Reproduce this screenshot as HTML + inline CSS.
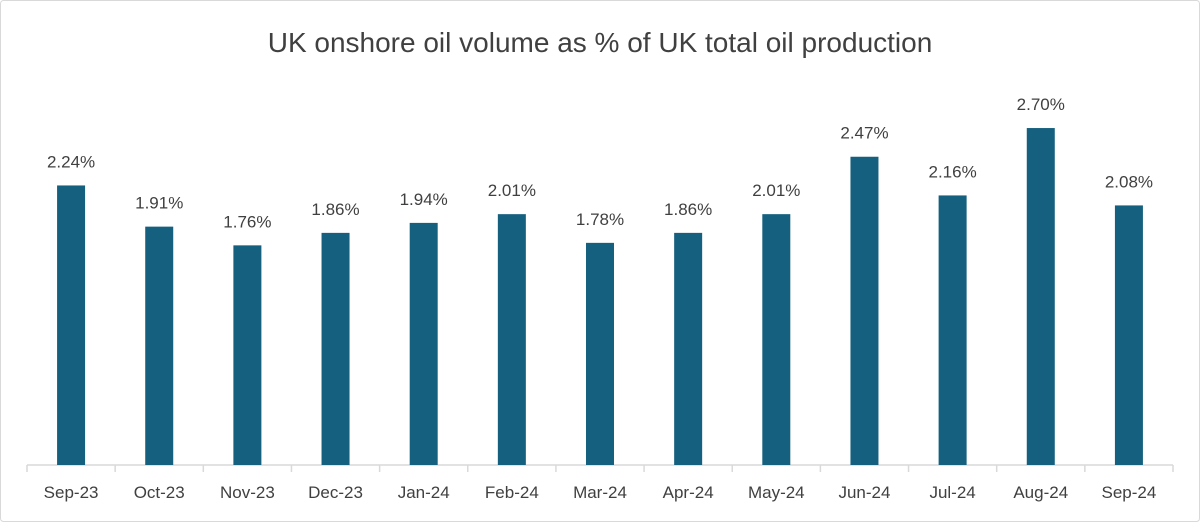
<!DOCTYPE html>
<html><head><style>
body{margin:0;background:#fff}
svg{display:block}
text{font-family:"Liberation Sans",sans-serif;fill:#404040}
</style></head><body>
<svg width="1200" height="522" xmlns="http://www.w3.org/2000/svg">
<rect x="0.5" y="0.5" width="1199" height="521" fill="#fff" stroke="#d9d9d9" rx="3"/>
<text x="600" y="52" text-anchor="middle" font-size="28" fill="#595959">UK onshore oil volume as % of UK total oil production</text>
<line x1="27" y1="465" x2="1173" y2="465" stroke="#d9d9d9" stroke-width="1.5"/>
<g id="g"></g>
</svg>
<script>
var d=[["Sep-23",2.24],["Oct-23",1.91],["Nov-23",1.76],["Dec-23",1.86],["Jan-24",1.94],["Feb-24",2.01],["Mar-24",1.78],["Apr-24",1.86],["May-24",2.01],["Jun-24",2.47],["Jul-24",2.16],["Aug-24",2.70],["Sep-24",2.08]];
var s="",w=1146/13;
for(var i=0;i<=13;i++){var x=27+i*w;s+='<line x1="'+x+'" y1="465" x2="'+x+'" y2="472" stroke="#d9d9d9" stroke-width="1.5"/>';}
d.forEach(function(e,i){var c=27+w*(i+0.5),h=e[1]*124.8,t=465-h;
s+='<rect x="'+(c-14)+'" y="'+t+'" width="28" height="'+h+'" fill="#15607f"/>';
s+='<text x="'+c+'" y="'+(t-18)+'" text-anchor="middle" font-size="17">'+e[1].toFixed(2)+'%</text>';
s+='<text x="'+c+'" y="498" text-anchor="middle" font-size="17">'+e[0]+'</text>';});
document.getElementById("g").innerHTML=s;
</script>
</body></html>
